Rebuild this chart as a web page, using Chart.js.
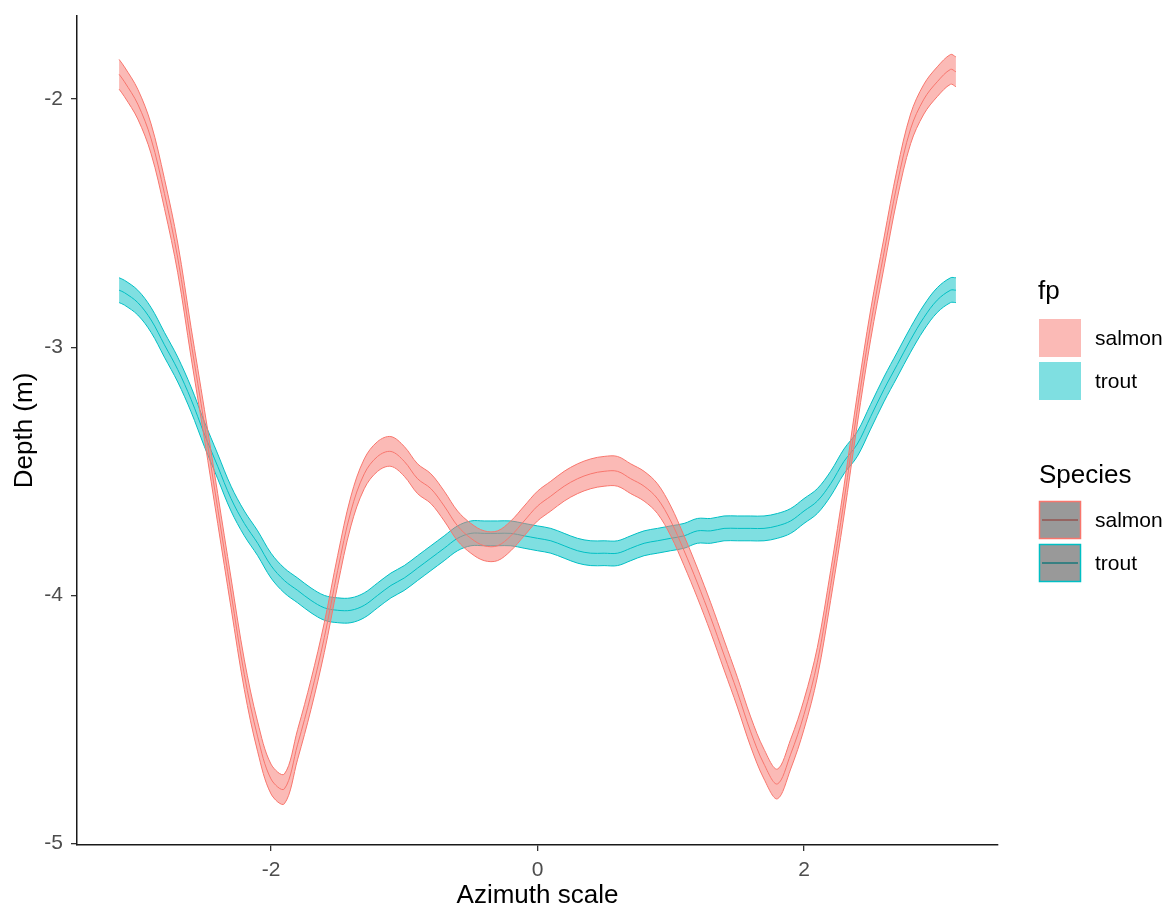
<!DOCTYPE html>
<html>
<head>
<meta charset="utf-8">
<script src="https://cdn.jsdelivr.net/npm/chart.js@4.4.1/dist/chart.umd.min.js"></script>
<style>
  html, body { margin: 0; padding: 0; background: #ffffff; }
  #wrap { width: 1176px; height: 911px; position: relative; }
</style>
</head>
<body>
<div id="wrap"><canvas id="c" width="1176" height="911"></canvas></div>
<script>
// ---- Data ----
const azimuth = [-3.14, -3.1, -3.0, -2.9, -2.8, -2.7, -2.6, -2.5, -2.4, -2.3, -2.2, -2.1, -2.0, -1.9, -1.8, -1.7, -1.6, -1.5, -1.4, -1.3, -1.2, -1.1, -1.0, -0.9, -0.8, -0.7, -0.6, -0.5, -0.4, -0.3, -0.2, -0.1, 0.0, 0.1, 0.2, 0.3, 0.4, 0.5, 0.6, 0.7, 0.8, 0.9, 1.0, 1.1, 1.2, 1.3, 1.4, 1.5, 1.6, 1.7, 1.8, 1.9, 2.0, 2.1, 2.2, 2.3, 2.4, 2.5, 2.6, 2.7, 2.8, 2.9, 3.0, 3.1, 3.14];

const salmonDepth = [-1.90, -1.93, -2.02, -2.16, -2.38, -2.64, -2.98, -3.31, -3.65, -3.99, -4.32, -4.57, -4.74, -4.78, -4.60, -4.40, -4.17, -3.90, -3.66, -3.51, -3.44, -3.42, -3.46, -3.53, -3.57, -3.64, -3.72, -3.77, -3.80, -3.80, -3.76, -3.70, -3.64, -3.60, -3.56, -3.53, -3.51, -3.50, -3.50, -3.53, -3.56, -3.61, -3.70, -3.82, -3.95, -4.09, -4.24, -4.39, -4.55, -4.68, -4.76, -4.64, -4.48, -4.27, -3.96, -3.62, -3.25, -2.91, -2.62, -2.34, -2.12, -2.00, -1.93, -1.88, -1.89];

const troutDepth = [-2.77, -2.78, -2.82, -2.89, -2.99, -3.09, -3.21, -3.35, -3.48, -3.61, -3.71, -3.79, -3.88, -3.94, -3.98, -4.02, -4.05, -4.06, -4.06, -4.04, -4.00, -3.96, -3.93, -3.89, -3.85, -3.81, -3.77, -3.75, -3.75, -3.75, -3.75, -3.76, -3.77, -3.78, -3.80, -3.82, -3.83, -3.83, -3.83, -3.81, -3.79, -3.78, -3.77, -3.76, -3.74, -3.74, -3.73, -3.73, -3.73, -3.73, -3.72, -3.70, -3.66, -3.62, -3.55, -3.46, -3.39, -3.28, -3.17, -3.07, -2.97, -2.88, -2.81, -2.77, -2.77];

const salmonHalfWidth = 0.06;
const troutHalfWidth = 0.05;

const xTicks = [-2, 0, 2];
const yTicks = [-5, -4, -3, -2];
const speciesNames = ['salmon', 'trout'];

// ---- Styles ----
const FONT = "'Liberation Sans', Arial, sans-serif";
const salmonColor = '#F8766D';
const troutColor = '#00BFC4';
const salmonFill = 'rgba(248,118,109,0.5)';
const troutFill = 'rgba(0,191,196,0.5)';

function pts(vals, off) {
  return azimuth.map((x, i) => ({ x: x, y: vals[i] + off }));
}

function band(vals, hw, color, fill) {
  const common = {
    borderColor: color, borderWidth: 1, pointRadius: 0,
    cubicInterpolationMode: 'default', tension: 0.35
  };
  return [
    Object.assign({ data: pts(vals, -hw), fill: false }, common),
    Object.assign({ data: pts(vals, hw), fill: '-1', backgroundColor: fill }, common),
    Object.assign({ data: pts(vals, 0), fill: false }, common)
  ];
}

const legendPlugin = {
  id: 'ggLegend',
  afterDraw(chart) {
    const ctx = chart.ctx;
    ctx.save();
    ctx.textAlign = 'left';
    // fp legend
    ctx.fillStyle = '#000';
    ctx.font = '26px ' + FONT;
    ctx.textBaseline = 'alphabetic';
    ctx.fillText('fp', 1038, 299);
    const fills = [salmonFill, troutFill];
    const lines = [salmonColor, troutColor];
    const mixed = ['#955550', '#19797B'];
    const boxX = 1039, boxW = 42, boxH = 38;
    const fpY = [319, 362];
    ctx.font = '21px ' + FONT;
    ctx.textBaseline = 'middle';
    for (let i = 0; i < 2; i++) {
      ctx.fillStyle = fills[i];
      ctx.fillRect(boxX, fpY[i], boxW, boxH);
      ctx.fillStyle = '#000';
      ctx.fillText(speciesNames[i], 1095, fpY[i] + boxH / 2 + 1);
    }
    // Species legend
    ctx.font = '26px ' + FONT;
    ctx.textBaseline = 'alphabetic';
    ctx.fillText('Species', 1039, 483);
    const spY = [501, 544];
    ctx.font = '21px ' + FONT;
    ctx.textBaseline = 'middle';
    for (let i = 0; i < 2; i++) {
      ctx.fillStyle = '#999999';
      ctx.fillRect(boxX, spY[i], boxW, boxH);
      ctx.strokeStyle = mixed[i];
      ctx.lineWidth = 1.5;
      ctx.beginPath();
      ctx.moveTo(boxX + 3, spY[i] + boxH / 2);
      ctx.lineTo(boxX + boxW - 3, spY[i] + boxH / 2);
      ctx.stroke();
      ctx.strokeStyle = lines[i];
      ctx.lineWidth = 1.5;
      ctx.strokeRect(boxX + 0.5, spY[i] + 0.5, boxW - 1, boxH - 1);
      ctx.fillStyle = '#000';
      ctx.fillText(speciesNames[i], 1095, spY[i] + boxH / 2 + 1);
    }
    ctx.restore();
  }
};

const axisCommon = {
  type: 'linear',
  grid: { display: true, drawOnChartArea: false, drawTicks: true, tickLength: 6, color: '#333333', tickColor: '#333333', lineWidth: 1.3 },
  border: { display: true, color: '#1a1a1a', width: 1.5 },
};

new Chart(document.getElementById('c'), {
  type: 'line',
  data: {
    datasets: [
      ...band(salmonDepth, salmonHalfWidth, salmonColor, salmonFill),
      ...band(troutDepth, troutHalfWidth, troutColor, troutFill)
    ]
  },
  options: {
    responsive: false,
    animation: false,
    devicePixelRatio: 1,
    layout: { padding: { top: 16, right: 178, left: 0, bottom: 0 } },
    plugins: { legend: { display: false }, tooltip: { enabled: false } },
    elements: { point: { radius: 0 } },
    scales: {
      x: Object.assign({}, axisCommon, {
        min: -3.456, max: 3.456,
        afterBuildTicks: (s) => { s.ticks = xTicks.map(v => ({ value: v })); },
        afterFit: (s) => { s.height = 66; s.paddingLeft = 0; s.paddingRight = 0; },
        ticks: { font: { size: 21, family: FONT }, color: '#4D4D4D', padding: 7, maxRotation: 0, autoSkip: false },
        title: { display: true, text: 'Azimuth scale', color: '#000', font: { size: 26, family: FONT, lineHeight: 1.2 }, padding: { top: 0, bottom: 0 } }
      }),
      y: Object.assign({}, axisCommon, {
        min: -5.006, max: -1.665,
        afterBuildTicks: (s) => { s.ticks = yTicks.map(v => ({ value: v })); },
        afterFit: (s) => { s.width = 77; s.paddingTop = 0; s.paddingBottom = 0; },
        ticks: { font: { size: 21, family: FONT }, color: '#4D4D4D', padding: 8, autoSkip: false },
        title: { display: true, text: 'Depth (m)', color: '#000', font: { size: 26, family: FONT, lineHeight: 1.2 }, padding: { top: 9, bottom: 0 } }
      })
    }
  },
  plugins: [legendPlugin]
});
</script>
</body>
</html>
